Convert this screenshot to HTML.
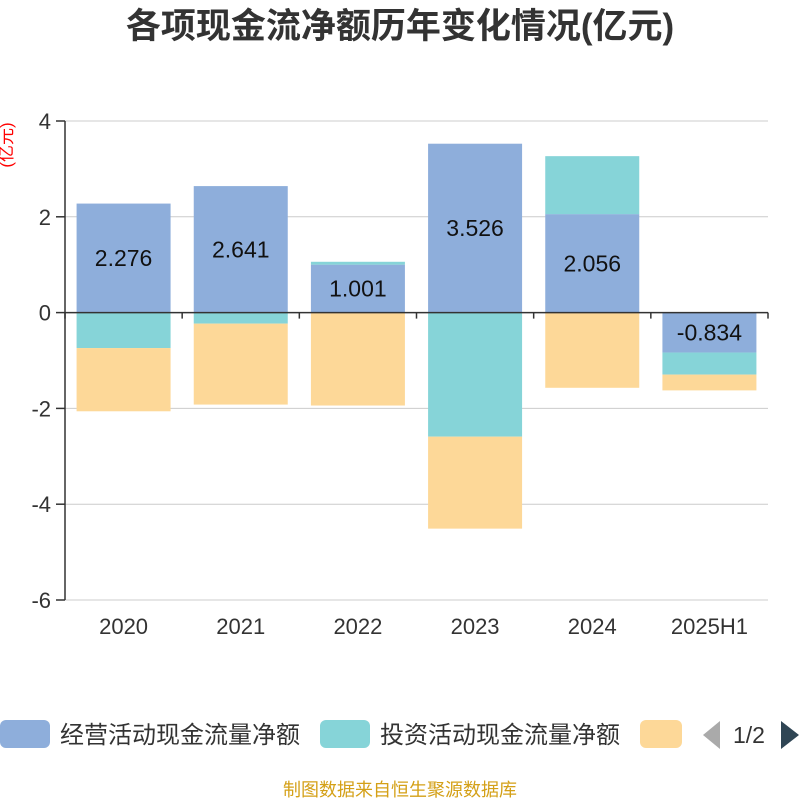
<!DOCTYPE html>
<html><head><meta charset="utf-8">
<style>
body{margin:0;background:#fff;}
svg{display:block;font-family:"Liberation Sans","Noto Sans CJK SC",sans-serif;}
</style></head>
<body>
<svg id="c" width="800" height="800">
<text x="400" y="38" text-anchor="middle" font-size="35" font-weight="bold" fill="#333">各项现金流净额历年变化情况(亿元)</text>
<text transform="translate(12,145) rotate(-90)" text-anchor="middle" font-size="17" fill="#f00">(亿元)</text>
<g id="grid"></g><g id="bars"></g><g id="axes"></g>
<g>
<rect x="0" y="720" width="50" height="28" rx="6" fill="#8eaedb"/>
<text x="60" y="743" font-size="24" fill="#333">经营活动现金流量净额</text>
<rect x="320" y="720" width="50" height="28" rx="6" fill="#86d4d8"/>
<text x="380" y="743" font-size="24" fill="#333">投资活动现金流量净额</text>
<rect x="640" y="720" width="42" height="28" rx="6" fill="#fdd898"/>
<polygon points="720,721 720,749 703,735" fill="#aaa"/>
<text x="733" y="743" font-size="23" fill="#333">1/2</text>
<polygon points="781,721 781,749 799,735" fill="#2f4554"/>
</g>
<text x="400" y="796" text-anchor="middle" font-size="18" fill="#d4a017">制图数据来自恒生聚源数据库</text>
</svg>
<script>
const categories=["2020","2021","2022","2023","2024","2025H1"];
const operating=[2.276,2.641,1.001,3.526,2.056,-0.834];
const investing=[-0.74,-0.23,0.06,-2.59,1.21,-0.46];
const financing=[-1.32,-1.69,-1.94,-1.92,-1.57,-0.33];
const yTicks=[4,2,0,-2,-4,-6];
const NS="http://www.w3.org/2000/svg";
const x0=65,x1=768,yTop=121,yBot=600,vMax=4,vMin=-6;
const y=v=>yTop+(vMax-v)*(yBot-yTop)/(vMax-vMin);
const bw=(x1-x0)/categories.length;
function mk(t,a,p){const e=document.createElementNS(NS,t);for(const k in a)e.setAttribute(k,a[k]);p.appendChild(e);return e;}
const grid=document.getElementById('grid'),axes=document.getElementById('axes'),bars=document.getElementById('bars');
yTicks.forEach(v=>{
 if(v!==0){const l=mk('line',{x1:x0,x2:x1,y1:y(v),y2:y(v),stroke:'#ccc','stroke-width':1},grid);
 
 }
 const t=mk('line',{x1:x0-9,x2:x0,y1:y(v),y2:y(v),stroke:'#333','stroke-width':1.5},axes);
 
 
 const tx=mk('text',{x:x0-14,y:y(v)+8,'text-anchor':'end','font-size':22,fill:'#333'},axes);
 tx.textContent=v;
 
 
});
const ya=mk('line',{x1:x0,x2:x0,y1:yTop,y2:yBot,stroke:'#333','stroke-width':1.5},axes);


const xa=mk('line',{x1:x0,x2:x1,y1:y(0),y2:y(0),stroke:'#333','stroke-width':1.5},axes);


for(let i=0;i<=categories.length;i++){
 const t=mk('line',{x1:x0+i*bw,x2:x0+i*bw,y1:y(0),y2:y(0)+6,stroke:'#333','stroke-width':1.5},axes);
 
 
}
const series=[[operating,'#8eaedb','operating'],[investing,'#86d4d8','investing'],[financing,'#fdd898','financing']];
categories.forEach((c,i)=>{
 const cx=x0+(i+0.5)*bw;let pos=0,neg=0;
 series.forEach(([arr,col,nm])=>{
  const v=arr[i];let a,b;
  if(v>=0){a=pos;b=pos+v;pos=b;}else{a=neg;b=neg+v;neg=b;}
  const top=y(Math.max(a,b)),h=Math.abs(y(a)-y(b));
  const r=mk('rect',{x:cx-47,y:top,width:94,height:h,fill:col},bars);
  
  
  if(nm==='operating'){
   const t=mk('text',{x:cx,y:top+h/2+8,'text-anchor':'middle','font-size':23,fill:'#111'},bars);
   t.textContent=v.toFixed(3);
   
   
  }
 });
 const tx=mk('text',{x:cx,y:634,'text-anchor':'middle','font-size':22,fill:'#333'},axes);
 tx.textContent=c;
 
 
});
</script>
</body></html>
